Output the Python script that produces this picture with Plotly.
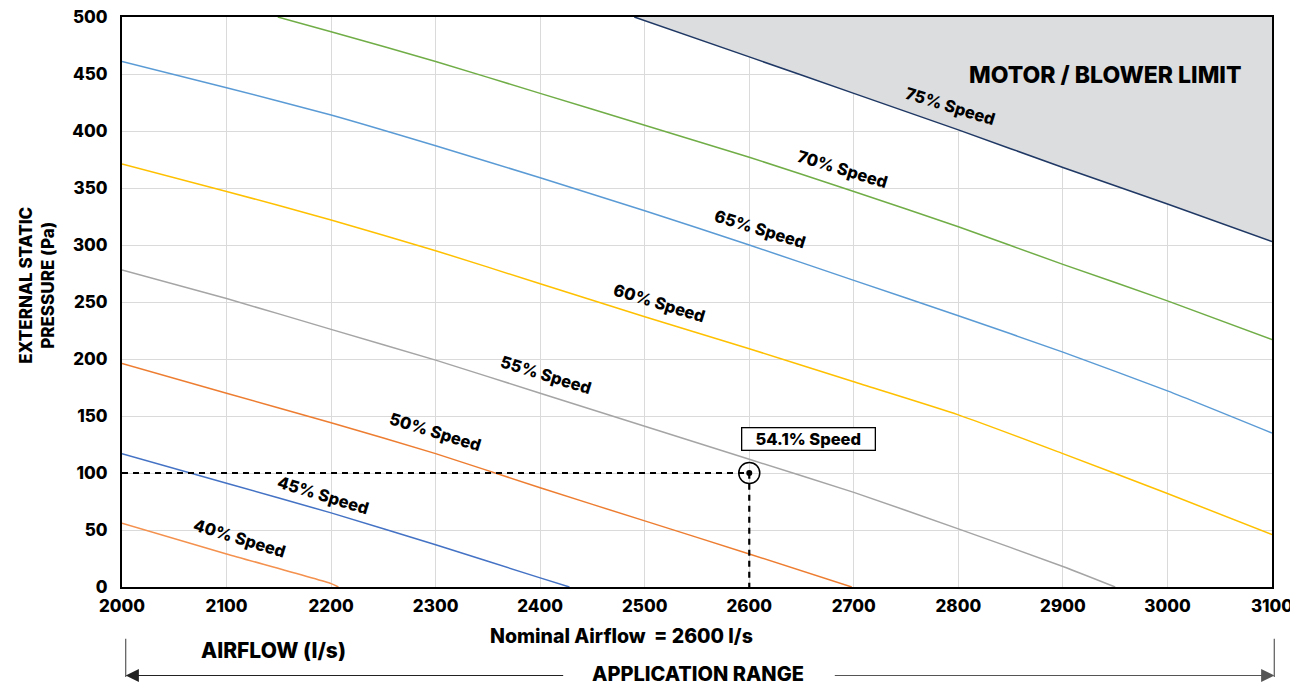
import plotly.graph_objects as go

# ---- data (airflow l/s, external static pressure Pa) ----
airflow_40 = [2000, 2100, 2200, 2207]
pressure_40 = [56, 29, 3, 0]

airflow_45 = [2000, 2100, 2200, 2300, 2400, 2428]
pressure_45 = [117, 91, 65, 37, 8, 0]

airflow_50 = [2000, 2100, 2200, 2300, 2400, 2500, 2600, 2698]
pressure_50 = [196, 170, 144, 117, 87, 58, 29, 0]

airflow_55 = [2000, 2100, 2200, 2300, 2400, 2500, 2600, 2700, 2800, 2900, 2950]
pressure_55 = [278, 253, 226, 199, 170, 141, 112, 83, 51, 18, 0]

airflow_60 = [2000, 2100, 2200, 2300, 2400, 2500, 2600, 2700, 2800, 2900, 3000, 3100]
pressure_60 = [371, 347, 322, 295, 266, 237, 209, 180, 151, 117, 82, 46]

airflow_65 = [2000, 2100, 2200, 2300, 2400, 2500, 2600, 2700, 2800, 2900, 3000, 3100]
pressure_65 = [461, 438, 414, 387, 359, 330, 300, 269, 238, 206, 172, 135]

airflow_70 = [2149, 2200, 2300, 2400, 2500, 2600, 2700, 2800, 2900, 3000, 3100]
pressure_70 = [500, 487, 461, 433, 405, 377, 347, 316, 283, 251, 217]

airflow_75 = [2490, 2600, 2700, 2800, 2900, 3000, 3100]
pressure_75 = [500, 465, 433, 401, 368, 336, 303]

speed_labels = ["40% Speed", "45% Speed", "50% Speed", "55% Speed",
                "60% Speed", "65% Speed", "70% Speed", "75% Speed"]
label_x = [2112, 2192, 2300, 2406, 2514, 2610, 2689, 2792]
label_y = [43, 81, 136, 186, 249, 314, 367, 422]

duty_airflow = 2600
duty_pressure = 100
duty_label = "54.1% Speed"

x_ticks = list(range(2000, 3101, 100))
y_ticks = list(range(0, 501, 50))

FONT = "Inter"
W = 800  # heavy weight, closest to the original's bold face


def fnt(size, color="black"):
    return dict(family=FONT, size=size, color=color, weight=W)


curves = [
    (airflow_40, pressure_40, "#F4914E"),
    (airflow_45, pressure_45, "#4472C4"),
    (airflow_50, pressure_50, "#ED7D31"),
    (airflow_55, pressure_55, "#A5A5A5"),
    (airflow_60, pressure_60, "#FFC000"),
    (airflow_65, pressure_65, "#5B9BD5"),
    (airflow_70, pressure_70, "#70AD47"),
    (airflow_75, pressure_75, "#1F3864"),
]

fig = go.Figure()

# motor / blower limit zone above the 75% curve
fig.add_trace(go.Scatter(
    x=airflow_75 + [airflow_75[-1]], y=pressure_75 + [500],
    fill="toself", fillcolor="#DCDDDF", line=dict(width=0),
    mode="lines", hoverinfo="skip",
))

for xs, ys, col in curves:
    fig.add_trace(go.Scatter(x=xs, y=ys, mode="lines",
                             line=dict(color=col, width=1.5, shape="spline", smoothing=0.6)))

# duty point guides
fig.add_trace(go.Scatter(x=[2000, duty_airflow, duty_airflow],
                         y=[duty_pressure, duty_pressure, 0],
                         mode="lines", line=dict(color="black", width=2.2, dash="6px,5px")))
fig.add_trace(go.Scatter(x=[duty_airflow], y=[duty_pressure], mode="markers",
                         marker=dict(size=21, color="rgba(0,0,0,0)",
                                     line=dict(color="black", width=1.5))))
fig.add_trace(go.Scatter(x=[duty_airflow], y=[duty_pressure], mode="markers",
                         marker=dict(size=6, color="black")))

# curve labels
for txt, lx, ly in zip(speed_labels, label_x, label_y):
    fig.add_annotation(x=lx, y=ly, text=txt, showarrow=False,
                       textangle=17, font=fnt(16.5))

fig.add_annotation(x=2657, y=130, text=duty_label, showarrow=False,
                   width=130, height=19,
                   bgcolor="white", bordercolor="black", borderwidth=1.3, borderpad=1,
                   font=fnt(16.5))

fig.add_annotation(x=2940, y=449, text="MOTOR / BLOWER LIMIT", showarrow=False,
                   font=fnt(23))

# axis titles / notes (paper coords, below and left of the plot)
notes = dict(xref="paper", yref="paper", showarrow=False,
             xanchor="center", yanchor="middle")
fig.add_annotation(x=-0.074, y=0.53, text="EXTERNAL STATIC<br>PRESSURE (Pa)",
                   textangle=-90, font=fnt(17), **notes)
fig.add_annotation(x=0.434, y=-0.086, text="Nominal Airflow  = 2600 l/s",
                   font=fnt(19.5), **notes)
fig.add_annotation(x=0.132, y=-0.111, text="AIRFLOW (l/s)",
                   font=fnt(21), **notes)
fig.add_annotation(x=0.501, y=-0.152, text="APPLICATION RANGE",
                   font=fnt(20), **notes)

# application range arrows
fig.add_annotation(xref="paper", yref="paper", x=0.0032, y=-0.1553, ax=439, ay=0,
                   axref="pixel", ayref="pixel", showarrow=True, text="",
                   arrowhead=2, arrowsize=2.2, arrowwidth=1.2, arrowcolor="#222")
fig.add_annotation(xref="paper", yref="paper", x=1.002, y=-0.1553, ax=-441, ay=0,
                   axref="pixel", ayref="pixel", showarrow=True, text="",
                   arrowhead=2, arrowsize=2.2, arrowwidth=1.2, arrowcolor="#555")
for xe in (0.0032, 1.002):
    fig.add_shape(type="line", xref="paper", yref="paper", x0=xe, x1=xe,
                  y0=-0.091, y1=-0.158, line=dict(color="#666", width=1.3))

fig.update_xaxes(range=[2000, 3100], tickvals=x_ticks, automargin=False,
                 showgrid=True, gridcolor="#DADADA", gridwidth=1,
                 showline=True, linecolor="black", linewidth=2, mirror=True,
                 zeroline=False, ticks="", ticklabelstandoff=3,
                 ticklabeloverflow="allow", tickfont=fnt(17))
fig.update_yaxes(range=[0, 500], tickvals=y_ticks, automargin=False,
                 showgrid=True, gridcolor="#DADADA", gridwidth=1,
                 showline=True, linecolor="black", linewidth=2, mirror=True,
                 zeroline=False, ticks="", ticklabelstandoff=9,
                 ticklabeloverflow="allow", tickfont=fnt(17))

# page body keeps its default 8px margin; the figure runs from there to the window edge
fig.update_layout(
    width=1290, height=679,
    margin=dict(l=114, r=26, t=9, b=100),
    paper_bgcolor="white", plot_bgcolor="white",
    showlegend=False, hovermode=False,
)

fig.write_html("out.html")
